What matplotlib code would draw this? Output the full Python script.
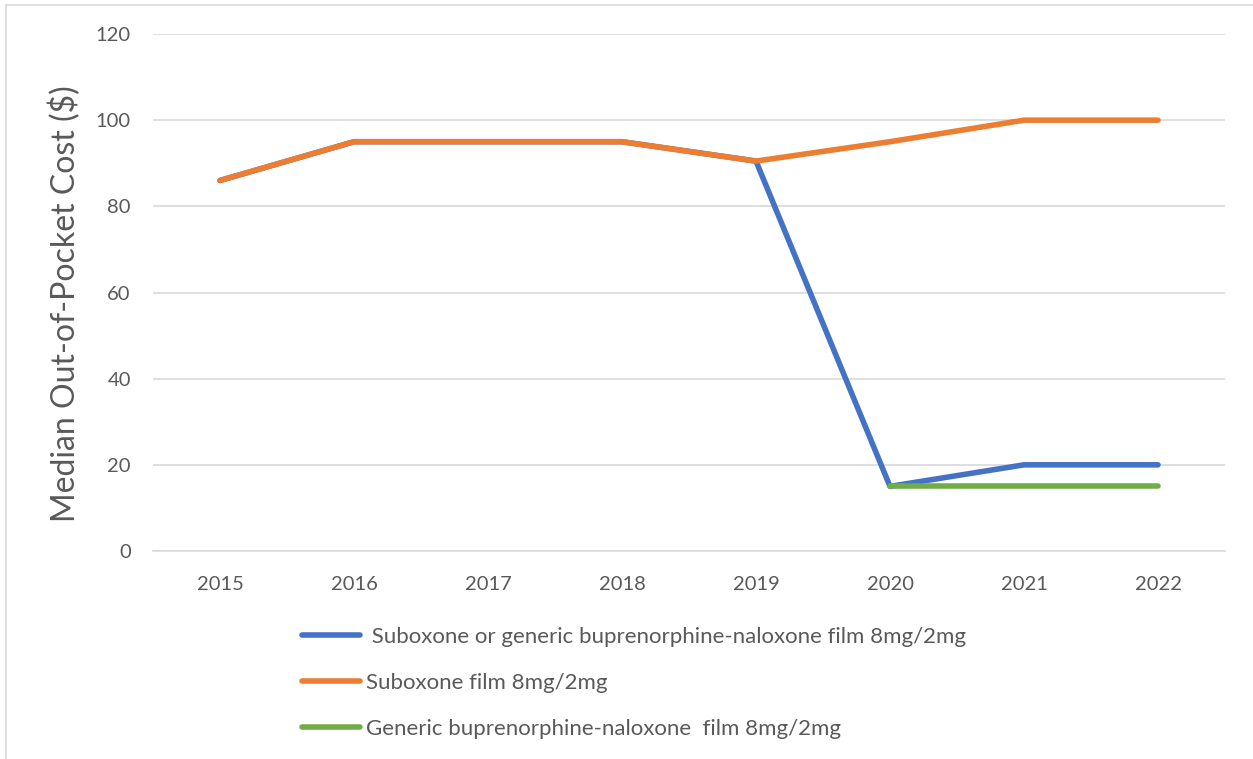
import matplotlib.pyplot as plt
from matplotlib.lines import Line2D

years = ["2015", "2016", "2017", "2018", "2019", "2020", "2021", "2022"]
suboxone_or_generic = [86, 95, 95, 95, 90.5, 15, 20, 20]
suboxone_film = [86, 95, 95, 95, 90.5, 95, 100, 100]
generic_film = [None, None, None, None, None, 15, 15, 15]

labels = [" Suboxone or generic buprenorphine-naloxone film 8mg/2mg",
          "Suboxone film 8mg/2mg",
          "Generic buprenorphine-naloxone  film 8mg/2mg"]

plt.rcParams['font.family'] = ['Lato', 'DejaVu Sans']
txt = '#595959'

fig = plt.figure(figsize=(12.53, 7.59), dpi=100)
ax = fig.add_axes([153 / 1253, 1 - 551 / 759, (1225 - 153) / 1253, (551 - 34) / 759])

x = list(range(len(years)))
gx = [i for i, v in zip(x, generic_film) if v is not None]
gy = [v for v in generic_film if v is not None]

l1, = ax.plot(x, suboxone_or_generic, color='#4472C4', lw=4, solid_capstyle='round', zorder=3)
l2, = ax.plot(x, suboxone_film, color='#ED7D31', lw=4, solid_capstyle='round', zorder=4)
l3, = ax.plot(gx, gy, color='#70AD47', lw=4, solid_capstyle='round', zorder=5)

ax.set_xlim(-0.5, len(years) - 0.5)
ax.set_ylim(0, 120)
ax.set_yticks(range(0, 121, 20))
ax.set_xticks(x)
ax.set_xticklabels(years)
ax.grid(axis='y', color='#D9D9D9', lw=1.2)
ax.set_axisbelow(True)
for s in ['top', 'right', 'left']:
    ax.spines[s].set_visible(False)
ax.spines['bottom'].set_color('#D9D9D9')
ax.spines['bottom'].set_linewidth(1.2)
ax.tick_params(length=0, labelsize=14.5, colors=txt, pad=18)
ax.tick_params(axis='y', pad=16)
ax.set_ylabel('Median Out-of-Pocket Cost ($)', fontsize=23, color=txt, va='center')
ax.yaxis.set_label_coords(-0.082, 0.478)

ax.legend([l1, l2, l3], labels, loc='upper left', bbox_to_anchor=(282 / 1253, 1 - 607 / 759),
          bbox_transform=fig.transFigure, frameon=False, fontsize=16, labelcolor=txt,
          handlelength=2.6, handletextpad=0.3, labelspacing=1.17)

fig.add_artist(Line2D([6 / 1253, 6 / 1253], [0, 1 - 5 / 759], color='#D9D9D9', lw=1.2))
fig.add_artist(Line2D([6 / 1253, 1], [1 - 5 / 759, 1 - 5 / 759], color='#D9D9D9', lw=1.2))

fig.savefig('out.png', dpi=100)
